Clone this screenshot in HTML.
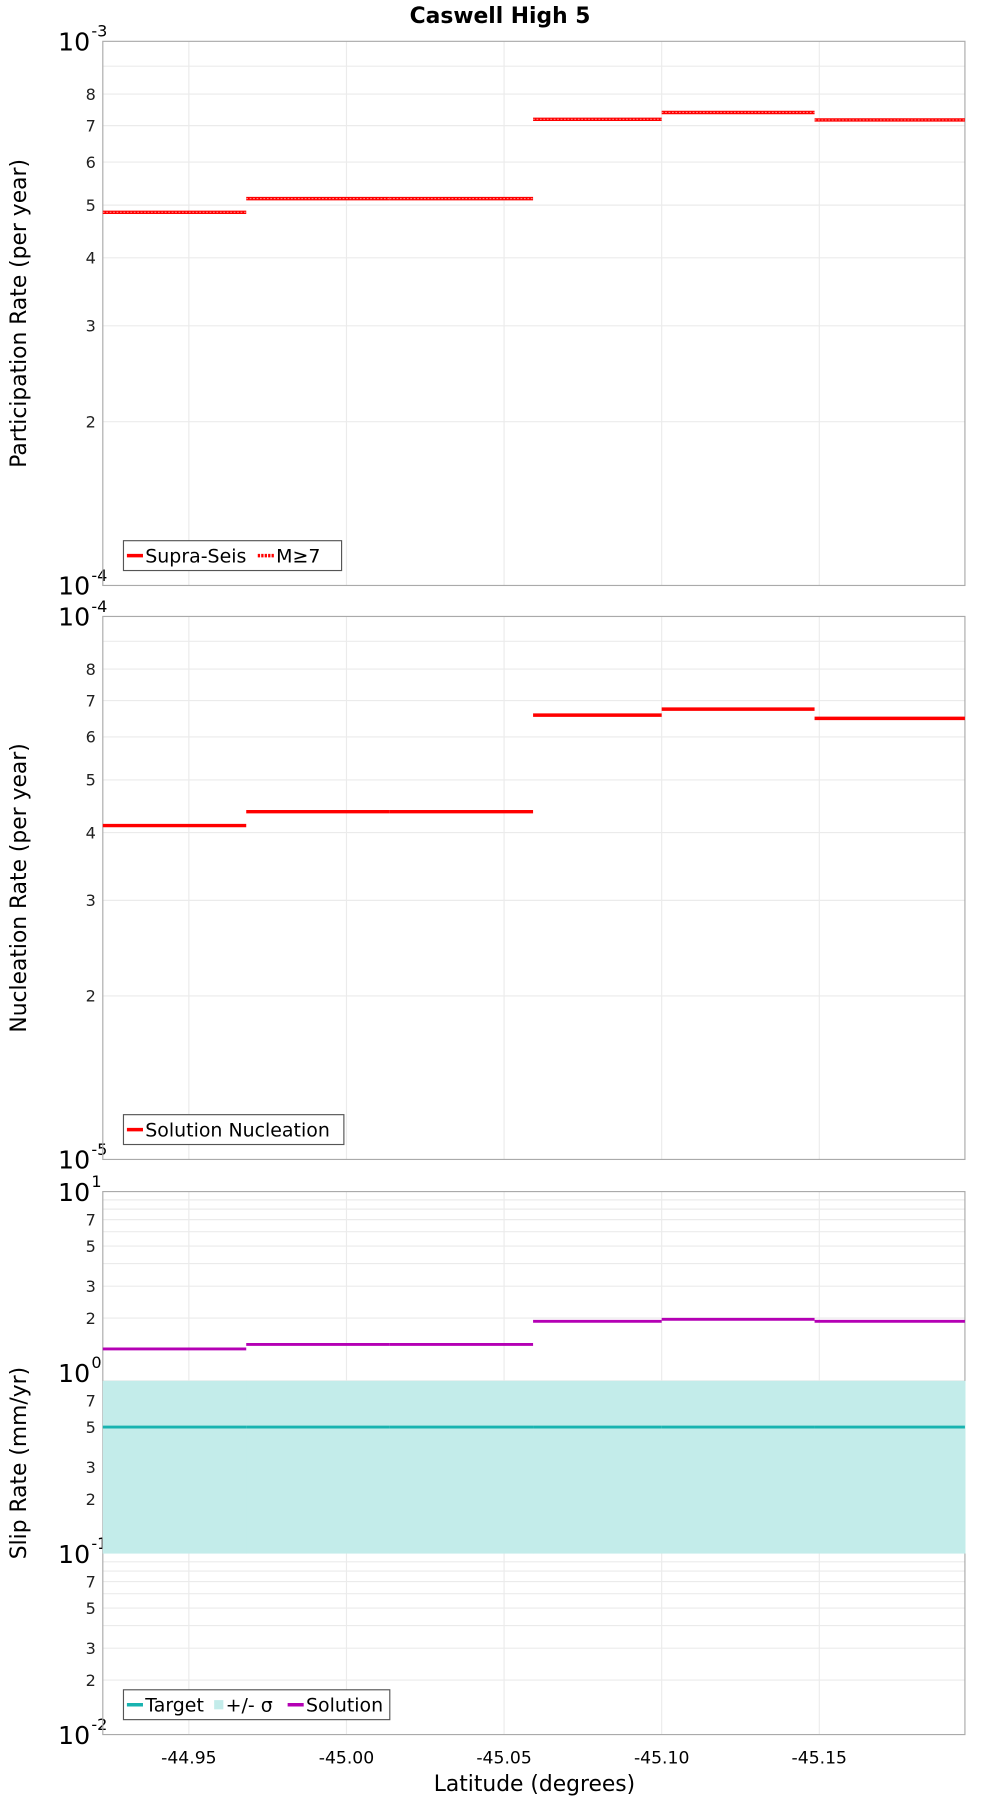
<!DOCTYPE html>
<html><head><meta charset="utf-8"><style>
html,body{margin:0;padding:0;background:#fff}
svg{display:block;font-family:"DejaVu Sans","Liberation Sans",sans-serif}
</style></head><body>
<svg id="chart" width="1000" height="1800" viewBox="0 0 870 1568" xmlns="http://www.w3.org/2000/svg">
<text x="435" y="20" font-size="19" font-weight="bold" text-anchor="middle">Caswell High 5</text>
<g id="layer"></g>
<text x="465" y="1560" font-size="19" text-anchor="middle">Latitude (degrees)</text>
</svg>
<script>
const binEdges = [-44.9227, -44.9682, -45.0137, -45.0592, -45.1000, -45.1485, -45.1962];
const xTicks = [-44.95, -45.00, -45.05, -45.10, -45.15];
const xTickLabels = ["-44.95", "-45.00", "-45.05", "-45.10", "-45.15"];
const partRates = [4.85e-4, 5.14e-4, 5.14e-4, 7.19e-4, 7.40e-4, 7.17e-4];
const m7Rates = [4.85e-4, 5.14e-4, 5.14e-4, 7.19e-4, 7.40e-4, 7.17e-4];
const nuclRates = [4.12e-5, 4.37e-5, 4.37e-5, 6.58e-5, 6.75e-5, 6.49e-5];
const solutionSlip = [1.35, 1.43, 1.43, 1.92, 1.97, 1.92];
const targetSlip = [0.5, 0.5, 0.5, 0.5, 0.5, 0.5];
const sigmaLow = [0.1, 0.1, 0.1, 0.1, 0.1, 0.1];
const sigmaHigh = [0.9, 0.9, 0.9, 0.9, 0.9, 0.9];

const NS = "http://www.w3.org/2000/svg";
const layer = document.getElementById('layer');
const L = 89, R = 840;
const X0 = -44.9227, X1 = -45.1962;
function xs(v){ return L + (v - X0) / (X1 - X0) * (R - L); }
function mk(tag, attrs, parent){
  const e = document.createElementNS(NS, tag);
  for (const k in attrs) e.setAttribute(k, attrs[k]);
  (parent || layer).appendChild(e);
  return e;
}
function panel(top, bottom, dmin, dmax, minorLabels, ylabel, name){
  const g = mk('g', {});
  
  
  const lmin = Math.log10(dmin), lmax = Math.log10(dmax);
  const ys = v => bottom - (Math.log10(v) - lmin) / (lmax - lmin) * (bottom - top);
  // grid
  for (let e = lmin; e < lmax; e++) {
    for (let m = 2; m <= 9; m++) {
      const v = m * Math.pow(10, e);
      const y = ys(v);
      const gl = mk('line', {x1: L, x2: R, y1: y, y2: y, stroke: '#ebebeb', 'stroke-width': 1}, g);
      
      
      if (minorLabels.indexOf(m) >= 0) {
        const t = mk('text', {x: 83, y: y + 5, 'font-size': 14, 'text-anchor': 'end', fill: '#222'}, g);
        t.textContent = m;
        
        
      }
    }
  }
  for (let e = lmin; e <= lmax; e++) {
    const y = ys(Math.pow(10, e));
    const t = mk('text', {x: 78, y: y + 8, 'font-size': 22, 'text-anchor': 'end'}, g);
    t.textContent = '10';
    
    
    const s = mk('text', {x: 79, y: y - 4, 'font-size': 14, 'text-anchor': 'start'}, g);
    s.textContent = (e < 0 ? '-' : '') + Math.abs(e);
    
    
  }
  xTicks.forEach(v => {
    const gl = mk('line', {x1: xs(v), x2: xs(v), y1: top, y2: bottom, stroke: '#ebebeb', 'stroke-width': 1}, g);
    
    
  });
  const fr = mk('rect', {x: L, y: top, width: R - L, height: bottom - top, fill: 'none', stroke: '#aaa', 'stroke-width': 1}, g);
  
  
  const yt = mk('text', {x: 0, y: 0, 'font-size': 19, 'text-anchor': 'middle', transform: 'translate(22,' + ((top + bottom) / 2) + ') rotate(-90)'}, g);
  yt.textContent = ylabel;
  
  
  return {g, ys};
}
function steps(p, vals, color, w, name, dash){
  vals.forEach((v, i) => {
    const a = {x1: xs(binEdges[i]), x2: xs(binEdges[i + 1]), y1: p.ys(v), y2: p.ys(v), stroke: color, 'stroke-width': w};
    if (dash) a['stroke-dasharray'] = dash;
    const l = mk('line', a, p.g);
    
    
  });
}
function legend(p, x, y, w, items){
  const lg = mk('g', {}, p.g);
  
  
  const r = mk('rect', {x: x, y: y, width: w, height: 26, fill: '#fff', stroke: '#555', 'stroke-width': 1}, lg);
  
  
  let cx = x + 3;
  items.forEach(it => {
    if (it.sw === 'band') {
      const b = mk('rect', {x: cx + 2, y: y + 9, width: 8, height: 8, fill: it.c}, lg);
      
      
      cx += 12;
    } else {
      const a = {x1: cx, x2: cx + 14, y1: y + 13, y2: y + 13, stroke: it.c, 'stroke-width': 3};
      if (it.dash) a['stroke-dasharray'] = it.dash;
      const s = mk('line', a, lg);
      
      
      cx += 16;
    }
    const t = mk('text', {x: cx, y: y + 19, 'font-size': 16.5}, lg);
    t.textContent = it.t;
    
    
    cx += it.tw;
  });
}
// Panel 1
const p1 = panel(36, 510, 1e-4, 1e-3, [2,3,4,5,6,7,8], 'Participation Rate (per year)', 'participation-panel');
steps(p1, partRates, '#ff0000', 3, 'supra-seis-segment');
steps(p1, m7Rates, '#ff8080', 1, 'm7-segment', '1.5,1.5');
legend(p1, 107, 471, 190, [{c:'#ff0000', t:'Supra-Seis', tw:98}, {c:'#ff0000', t:'M≥7', tw:50, dash:'2,1'}]);
// Panel 2
const p2 = panel(537, 1010, 1e-5, 1e-4, [2,3,4,5,6,7,8], 'Nucleation Rate (per year)', 'nucleation-panel');
steps(p2, nuclRates, '#ff0000', 3, 'nucleation-segment');
legend(p2, 107, 971, 192, [{c:'#ff0000', t:'Solution Nucleation', tw:170}]);
// Panel 3
const p3 = panel(1038, 1511, 1e-2, 1e1, [2,3,5,7], 'Slip Rate (mm/yr)', 'slip-rate-panel');
sigmaLow.forEach((v, i) => {
  const y1 = p3.ys(sigmaHigh[i]), y2 = p3.ys(v);
  const b = mk('rect', {x: xs(binEdges[i]), y: y1, width: xs(binEdges[i + 1]) - xs(binEdges[i]) + 0.5, height: y2 - y1, fill: '#c3ecea'}, p3.g);
  
  
});
steps(p3, targetSlip, '#18b3b0', 2.5, 'target-segment');
steps(p3, solutionSlip, '#b400b4', 2.5, 'solution-segment');
legend(p3, 107, 1472, 232, [{c:'#18b3b0', t:'Target', tw:58}, {c:'#c3ecea', t:'+/- σ', sw:'band', tw:54}, {c:'#b400b4', t:'Solution', tw:80}]);
// x tick labels
xTicks.forEach((v, i) => {
  const t = mk('text', {x: xs(v), y: 1536, 'font-size': 15, 'text-anchor': 'middle'});
  t.textContent = xTickLabels[i];
  
  
});
</script>
</body></html>
